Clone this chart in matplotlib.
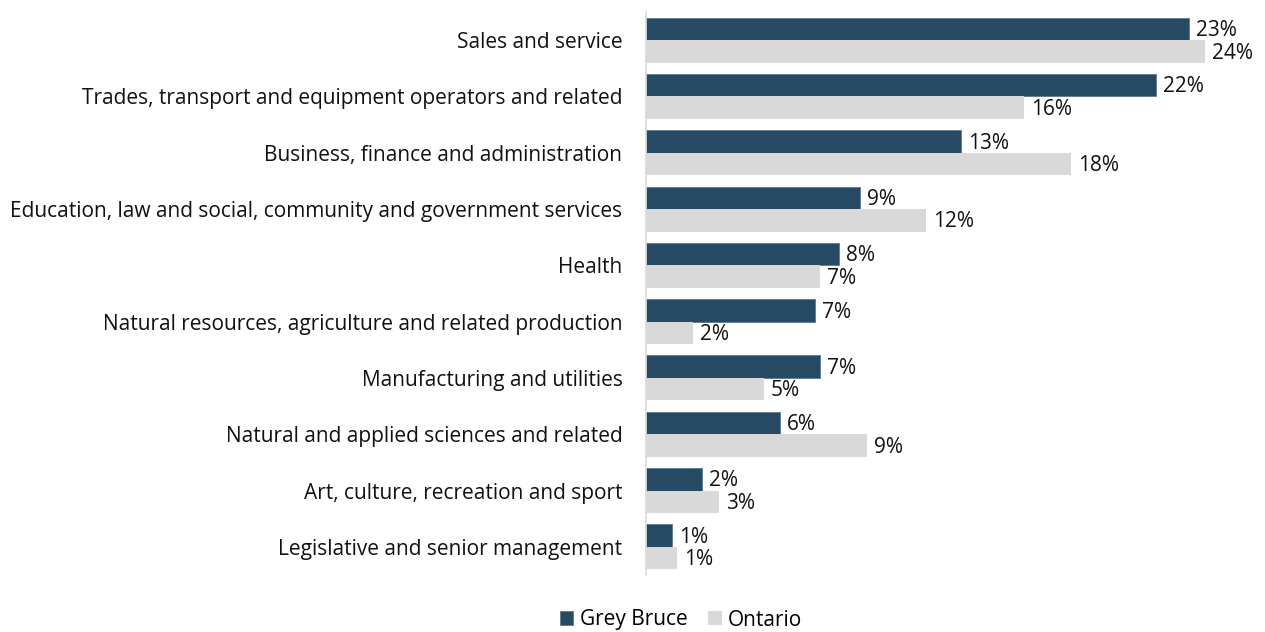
import numpy as np
import matplotlib.pyplot as plt

# =====================================================
# Data (share of employed labour force by occupation, %)
# =====================================================
categories = [
    "Sales and service",
    "Trades, transport and equipment operators and related",
    "Business, finance and administration",
    "Education, law and social, community and government services",
    "Health",
    "Natural resources, agriculture and related production",
    "Manufacturing and utilities",
    "Natural and applied sciences and related",
    "Art, culture, recreation and sport",
    "Legislative and senior management",
]
grey_bruce = [23.1, 21.7, 13.4, 9.1, 8.2, 7.2, 7.4, 5.7, 2.4, 1.1]
ontario = [23.8, 16.1, 18.1, 11.9, 7.4, 2.0, 5.0, 9.4, 3.1, 1.3]
series_names = ["Grey Bruce", "Ontario"]

dark = "#264a63"
light = "#d9d9d9"
fs = 15

plt.rcParams["font.family"] = ["Open Sans", "DejaVu Sans"]

fig = plt.figure(figsize=(12.65, 6.32), dpi=100)
ax = fig.add_axes([646 / 1265, 1 - 575 / 632, 611 / 1265, 563 / 632])

y = np.arange(len(categories))
h = 0.4
b1 = ax.barh(y - h / 2, grey_bruce, height=h, color=dark, edgecolor="#5b7a90",
             linewidth=0.6, label=series_names[0])
b2 = ax.barh(y + h / 2, ontario, height=h, color=light, label=series_names[1])

for bars, vals in [(b1, grey_bruce), (b2, ontario)]:
    for bar, v in zip(bars, vals):
        ax.text(bar.get_width() + 0.3, bar.get_y() + bar.get_height() / 2 + 0.03,
                f"{round(v)}%", va="center", ha="left", fontsize=fs, color="#111111")

ax.set_ylim(len(categories) - 0.5, -0.5)
ax.set_xlim(0, 26)
ax.set_yticks(y)
ax.set_yticklabels(categories, fontsize=fs, color="#111111")
ax.tick_params(axis="y", length=0, pad=17)
ax.set_xticks([])
for s in ["top", "right", "bottom"]:
    ax.spines[s].set_visible(False)
ax.spines["left"].set_color(light)
ax.spines["left"].set_linewidth(1.2)

fig.legend(handles=[b1, b2], labels=series_names, loc="center",
           bbox_to_anchor=(681 / 1265, 1 - 620 / 632), ncol=2, frameon=False,
           fontsize=fs, handlelength=0.65, handleheight=0.65,
           handletextpad=0.3, columnspacing=1.0)

plt.savefig("out.png", dpi=100)
plt.close()
